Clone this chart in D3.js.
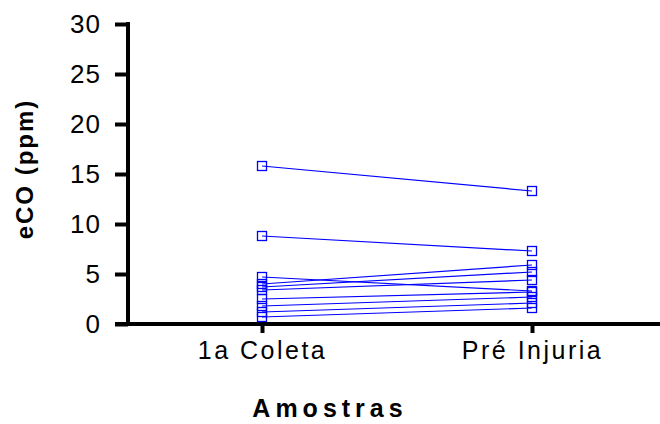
<!DOCTYPE html>
<html>
<head>
<meta charset="utf-8">
<script src="https://cdn.jsdelivr.net/npm/d3@7"></script>
<style>
  body { margin: 0; background: #fff; }
  text { font-family: Arial, "Liberation Sans", sans-serif; }
</style>
</head>
<body>
<div id="chart"></div>
<script>
// categories and paired readings (one subject per index)
var categories = ["1a Coleta", "Pré Injuria"];
var coleta = [15.8, 8.8, 4.7, 4.0, 3.7, 3.4, 2.5, 1.8, 1.2, 0.7];
var preInjuria = [13.3, 7.3, 3.3, 5.9, 5.2, 4.4, 3.2, 2.7, 2.1, 1.6];
var yTicks = [0, 5, 10, 15, 20, 25, 30];

var svgWidth = 660;
var svgHeight = 424;

var svg = d3.select("#chart")
  .append("svg")
  .attr("width", svgWidth)
  .attr("height", svgHeight);

// scales
var xScale = d3.scalePoint()
  .domain(categories)
  .range([262, 532]);

var yScale = d3.scaleLinear()
  .domain([0, 30])
  .range([324, 24]);

// y axis
var leftAxis = d3.axisLeft(yScale)
  .tickValues(yTicks)
  .tickSize(13)
  .tickPadding(14);

var yAxisG = svg.append("g")
  .attr("transform", "translate(128, 0)")
  .call(leftAxis);

yAxisG.select(".domain").remove();
yAxisG.append("line")
  .attr("x1", 0).attr("x2", 0)
  .attr("y1", yScale(30) - 2).attr("y2", yScale(0) + 2)
  .attr("stroke", "#000").attr("stroke-width", 4);
yAxisG.selectAll(".tick line")
  .attr("stroke", "#000").attr("stroke-width", 4);
yAxisG.selectAll(".tick text")
  .attr("fill", "#000")
  .style("font-size", "26px")
  .style("letter-spacing", "1px");

// x axis
var bottomAxis = d3.axisBottom(xScale)
  .tickSize(9)
  .tickPadding(8);

var xAxisG = svg.append("g")
  .attr("transform", "translate(0, 324)")
  .call(bottomAxis);

xAxisG.select(".domain").remove();
xAxisG.append("line")
  .attr("x1", 115).attr("x2", 660)
  .attr("y1", 0).attr("y2", 0)
  .attr("stroke", "#000").attr("stroke-width", 4);
xAxisG.selectAll(".tick line")
  .attr("stroke", "#000").attr("stroke-width", 4);
xAxisG.selectAll(".tick text")
  .attr("fill", "#000")
  .style("font-size", "25px")
  .style("letter-spacing", "2.5px");

// paired lines
var pairs = coleta.map(function(v, i) {
  return [ {c: categories[0], v: v}, {c: categories[1], v: preInjuria[i]} ];
});

var line = d3.line()
  .x(d => xScale(d.c))
  .y(d => yScale(d.v));

svg.append("g").selectAll("path")
  .data(pairs)
  .enter()
  .append("path")
  .attr("d", line)
  .attr("fill", "none")
  .attr("stroke", "#0000ff")
  .attr("stroke-width", 1.2);

// square markers
var points = [];
pairs.forEach(function(p) { points.push(p[0], p[1]); });

svg.append("g").selectAll("rect")
  .data(points)
  .enter()
  .append("rect")
  .attr("x", d => xScale(d.c) - 4.5)
  .attr("y", d => yScale(d.v) - 4.5)
  .attr("width", 9)
  .attr("height", 9)
  .attr("fill", "none")
  .attr("stroke", "#0000ff")
  .attr("stroke-width", 1.3);

// axis titles
svg.append("text")
  .attr("transform", "translate(33, 169) rotate(-90)")
  .attr("text-anchor", "middle")
  .style("font-size", "24px")
  .style("font-weight", "bold")
  .style("letter-spacing", "2px")
  .text("eCO (ppm)");

svg.append("text")
  .attr("x", 330)
  .attr("y", 417)
  .attr("text-anchor", "middle")
  .style("font-size", "25px")
  .style("font-weight", "bold")
  .style("letter-spacing", "5px")
  .text("Amostras");
</script>
</body>
</html>
